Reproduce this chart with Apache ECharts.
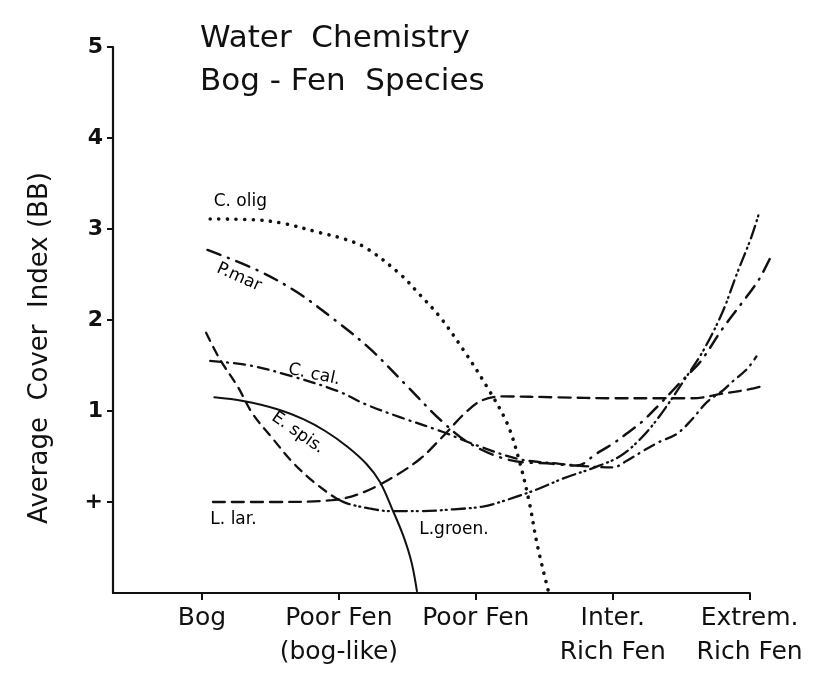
<!DOCTYPE html>
<html>
<head>
<meta charset="utf-8">
<title>Water Chemistry - Bog-Fen Species</title>
<script src="https://cdn.jsdelivr.net/npm/echarts@6/dist/echarts.min.js"></script>
<style>
  html, body { margin: 0; padding: 0; background: #fff; }
  #chart { width: 816px; height: 677px; }
</style>
</head>
<body>
<div id="chart"></div>
<script>
// x: 0 = Bog ... 4 = Extrem. Rich Fen
const xTicks = [0, 1, 2, 3, 4];
const xLabels = ['Bog', 'Poor Fen\n(bog-like)', 'Poor Fen', 'Inter.\nRich Fen', 'Extrem.\nRich Fen'];
const yTicks = [0, 1, 2, 3, 4, 5];
const yLabels = ['+', '1', '2', '3', '4', '5'];

// curves, [x, average cover index]
const cOlig = [[0.06, 3.11], [0.4, 3.1], [0.6, 3.06], [0.86, 2.96], [1.04, 2.89], [1.2, 2.79], [1.45, 2.5],
  [1.59, 2.28], [1.74, 2.03], [1.91, 1.67], [2.08, 1.27], [2.23, 0.86], [2.32, 0.44], [2.39, 0.0],
  [2.45, -0.48], [2.53, -0.98]];
const pMar = [[0.04, 2.77], [0.4, 2.55], [0.69, 2.31], [0.97, 2.0], [1.23, 1.68], [1.5, 1.27], [1.75, 0.89],
  [1.96, 0.64], [2.25, 0.46], [2.56, 0.42], [2.74, 0.4], [2.88, 0.53], [3.0, 0.64], [3.1, 0.75],
  [3.22, 0.89], [3.34, 1.07], [3.53, 1.37], [3.64, 1.54], [3.8, 1.9], [3.98, 2.26], [4.07, 2.45], [4.15, 2.68]];
const cCal = [[0.06, 1.55], [0.35, 1.5], [0.66, 1.38], [0.99, 1.22], [1.2, 1.07], [1.45, 0.93], [1.74, 0.78],
  [2.03, 0.61], [2.32, 0.47], [2.61, 0.42], [2.83, 0.39], [3.0, 0.38], [3.1, 0.45], [3.22, 0.56],
  [3.34, 0.66], [3.47, 0.75], [3.58, 0.91], [3.69, 1.1], [3.8, 1.22], [3.88, 1.33], [3.98, 1.46], [4.05, 1.6]];
const eSpis = [[0.03, 1.86], [0.13, 1.57], [0.26, 1.27], [0.37, 0.97], [0.52, 0.69], [0.66, 0.44],
  [0.8, 0.24], [0.93, 0.09], [0.99, 0.03]];
const solidSp = [[0.09, 1.15], [0.3, 1.11], [0.55, 1.02], [0.74, 0.91], [0.9, 0.78], [1.06, 0.61],
  [1.2, 0.42], [1.3, 0.22], [1.39, -0.08], [1.47, -0.37], [1.53, -0.66], [1.57, -0.98]];
const lLar = [[0.08, 0.0], [0.5, 0.0], [0.95, 0.02], [1.15, 0.09], [1.37, 0.25], [1.59, 0.47], [1.74, 0.69],
  [1.93, 0.99], [2.05, 1.12], [2.2, 1.16], [2.6, 1.15], [3.0, 1.14], [3.3, 1.14], [3.58, 1.14],
  [3.8, 1.19], [4.0, 1.24], [4.11, 1.28]];
const lGroen = [[0.99, 0.03], [1.07, -0.02], [1.22, -0.07], [1.37, -0.1], [1.6, -0.1], [1.84, -0.08],
  [2.05, -0.05], [2.2, 0.01], [2.45, 0.14], [2.64, 0.26], [2.85, 0.37], [3.05, 0.5], [3.2, 0.69],
  [3.34, 0.94], [3.54, 1.38], [3.66, 1.66], [3.8, 2.08], [3.91, 2.52], [4.01, 2.9], [4.07, 3.18]];

// curve labels
const labelNames = ['C. olig', 'P.mar', 'C. cal.', 'E. spis.', 'L. lar.', 'L.groen.'];
const labelPos = [[0.28, 3.3], [0.27, 2.47], [0.82, 1.4], [0.7, 0.76], [0.23, -0.19], [1.84, -0.3]];
const labelRotate = [0, -24, -12, -35, 0, 0];

// the drawn x axis stops at the last category, curves run a bit past it
const xAxisStart = -0.65;
const xAxisEnd = 4;

const ink = '#111';
const fontFam = 'DejaVu Sans, sans-serif';

function curve(name, data, width, type) {
  return {
    name: name,
    type: 'line',
    data: data,
    smooth: 0.35,
    symbol: 'none',
    silent: true,
    lineStyle: { color: ink, width: width, type: type, cap: 'round' }
  };
}

const chart = echarts.init(document.getElementById('chart'));

const option = {
  backgroundColor: '#fff',
  animation: false,
  title: {
    text: 'Water  Chemistry\nBog - Fen  Species',
    left: 195,
    top: 12,
    textStyle: { fontFamily: fontFam, fontSize: 31, fontWeight: 'normal', lineHeight: 43, color: ink }
  },
  grid: { left: 113, right: 39, top: 47, bottom: 84 },
  xAxis: {
    type: 'value',
    min: xAxisStart,
    max: 4.2,
    splitLine: { show: false },
    axisLine: { show: false, onZero: false },
    axisTick: { show: true, customValues: xTicks, length: 7, lineStyle: { color: ink, width: 2 } },
    axisLabel: {
      customValues: xTicks,
      formatter: v => xLabels[xTicks.indexOf(v)],
      color: ink, fontFamily: fontFam, fontSize: 25, lineHeight: 34, margin: 8
    }
  },
  yAxis: {
    type: 'value',
    min: -1,
    max: 5,
    interval: 1,
    splitLine: { show: false },
    axisLine: { show: true, onZero: false, lineStyle: { color: ink, width: 2.2 } },
    axisTick: { show: true, customValues: yTicks, length: 6, lineStyle: { color: ink, width: 2 } },
    axisLabel: {
      customValues: yTicks,
      formatter: v => yLabels[yTicks.indexOf(v)],
      color: ink, fontFamily: fontFam, fontSize: 22, fontWeight: 'bold', margin: 10
    }
  },
  graphic: [{
    id: 'yname',
    type: 'text',
    x: 40,
    y: 348,
    rotation: Math.PI / 2,
    style: {
      text: 'Average  Cover  Index (BB)',
      fill: ink,
      font: '26px DejaVu Sans, sans-serif',
      align: 'center',
      verticalAlign: 'middle'
    }
  }],
  series: [
    curve('C. olig', cOlig, 3.6, [0.1, 8.5]),
    curve('P. mar', pMar, 2.5, [14, 8, 1, 8]),
    curve('C. cal', cCal, 2.3, [11, 6, 1, 6]),
    curve('E. spis (dashed)', eSpis, 2.3, [9, 7]),
    curve('E. spis', solidSp, 2, 'solid'),
    curve('L. lar', lLar, 2.3, [12, 7]),
    curve('L. groen', lGroen, 2.3, [13, 5, 1, 4, 1, 5]),
    {
      name: 'labels',
      type: 'scatter',
      symbolSize: 0,
      silent: true,
      itemStyle: { color: ink, opacity: 1 },
      data: labelNames.map((n, i) => ({
        name: n,
        value: labelPos[i],
        label: { rotate: labelRotate[i] }
      })),
      label: {
        show: true,
        position: 'inside',
        formatter: p => p.name,
        color: '#000',
        fontFamily: fontFam,
        fontSize: 17
      }
    }
  ]
};

chart.setOption(option);

// x axis line from the axis start to the last category, placed through the grid's scales
const a0 = chart.convertToPixel({ gridIndex: 0 }, [xAxisStart, -1]);
const a1 = chart.convertToPixel({ gridIndex: 0 }, [xAxisEnd, -1]);
chart.setOption({
  graphic: [{
    id: 'xline',
    type: 'line',
    shape: { x1: a0[0] - 1, y1: a0[1], x2: a1[0] + 1, y2: a1[1] },
    style: { stroke: ink, lineWidth: 2.2 }
  }]
});
</script>
</body>
</html>
